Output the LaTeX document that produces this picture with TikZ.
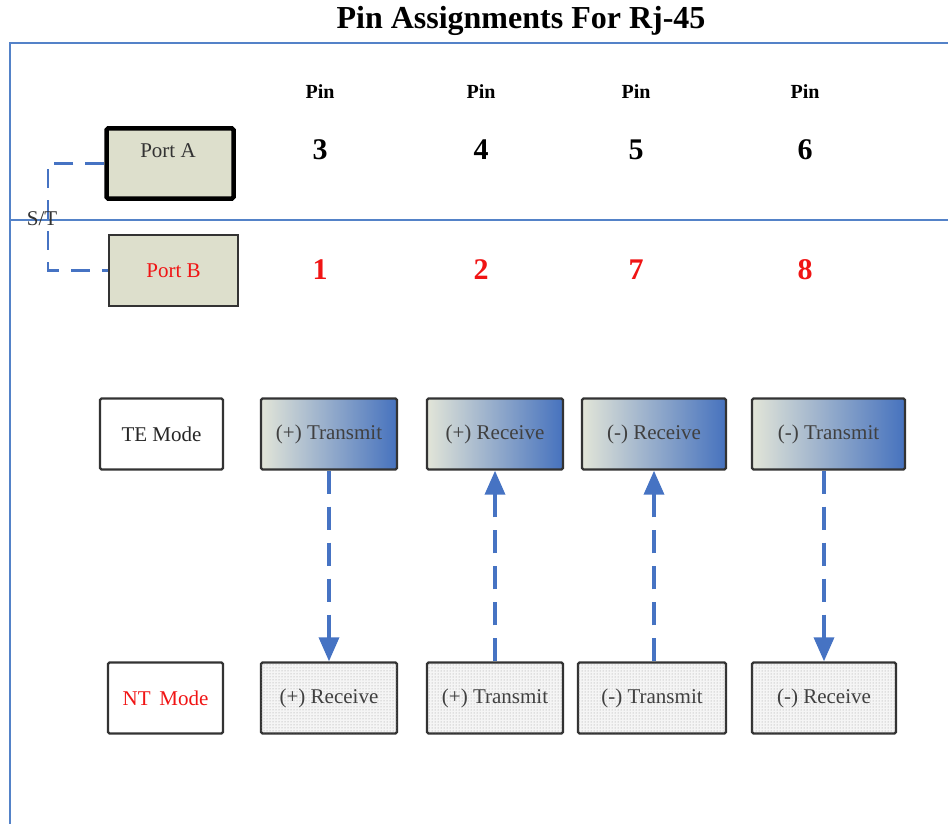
\documentclass[tikz,border=0pt]{standalone}
\usepackage{fontspec}
\setmainfont{Liberation Serif}
\usetikzlibrary{patterns,arrows.meta}
\definecolor{frameblue}{RGB}{84,130,200}
\definecolor{arrowblue}{RGB}{70,115,195}
\definecolor{khaki}{RGB}{221,223,204}
\definecolor{paleleft}{RGB}{226,229,216}
\definecolor{deepblue}{RGB}{70,114,190}
\definecolor{pinred}{RGB}{240,20,20}

\tikzset{
  modebox/.style={draw=black!80, line width=2.4pt, rounded corners=1.5pt, inner sep=0pt,
    minimum height=71pt, font=\fontsize{21}{24}\selectfont, text=black!75},
  tebox/.style={modebox, left color=paleleft, right color=deepblue},
  ntbox/.style={modebox, fill=gray!8, postaction={pattern=dots, pattern color=gray!80}},
  link/.style={arrowblue, line width=3.6pt, dash pattern=on 23pt off 13pt},
  tip/.style={-{Triangle[width=20pt,length=24pt]}}
}

\begin{document}
\begin{tikzpicture}[x=1pt,y=-1pt]
\useasboundingbox (0,0) rectangle (948,824);
\node[font=\fontsize{32}{36}\bfseries] (title) at (521,21) {Pin Assignments For Rj-45};
\draw[frameblue, line width=2.6pt](10,824)--(10,43)--(948,43);
\draw[frameblue, line width=2.2pt](10,220)--(948,220);

% pins
\foreach \x/\a/\b [count=\i] in {320/3/1, 481/4/2, 636/5/7, 805/6/8}{
	\node[font=\fontsize{20}{22}\bfseries] (pin\i) at (\x,92) {Pin};
	\node[font=\fontsize{30}{32}\bfseries] (a\i) at (\x,150) {\a};
	\node[font=\fontsize{30}{32}\bfseries, text=pinred] (b\i) at (\x,270) {\b};
}

% ports
\node[draw=black, line width=4.5pt, rounded corners=1.5pt, fill=khaki, minimum width=127pt, minimum height=70pt,
  inner sep=0pt] (portA) at (170,163.5) {};
\node[font=\fontsize{21}{24}\selectfont, text=black!80] at (168,151) {Port A};
\node[draw=black!80, line width=2.2pt, fill=khaki, minimum width=129pt, minimum height=71pt, inner sep=0pt,
  font=\fontsize{21}{24}\selectfont, text=pinred] (portB) at (173.5,270.5) {Port B};
\coordinate (st) at (48,220);
\draw[arrowblue, line width=2.6pt, dash pattern=on 19pt off 12pt](portA.west)-|(st)|-(portB.west);
\node[font=\fontsize{21}{24}\selectfont, text=black!80] at (42,219) {S/T};

% TE mode row
\node[modebox, minimum width=123pt, text=black!85] (te) at (161.5,434) {TE Mode};
\node[tebox, minimum width=136pt] (t1) at (329,434) {(+) Transmit};
\node[tebox, minimum width=136pt] (t2) at (495,434) {(+) Receive};
\node[tebox, minimum width=144pt] (t3) at (654,434) {(-) Receive};
\node[tebox, minimum width=153pt] (t4) at (828.5,434) {(-) Transmit};

% NT mode row
\node[modebox, minimum width=115pt, text=pinred] (nt) at (165.5,698) {NT\, Mode};
\node[ntbox, minimum width=136pt] (n1) at (329,698) {(+) Receive};
\node[ntbox, minimum width=136pt] (n2) at (495,698) {(+) Transmit};
\node[ntbox, minimum width=148pt] (n3) at (652,698) {(-) Transmit};
\node[ntbox, minimum width=144pt] (n4) at (824,698) {(-) Receive};

% signal direction
\draw[link, tip](t1.south)--(t1.south |- n1.north);
\draw[link, tip](n2.north)--(n2.north |- t2.south);
\draw[link, tip](n3.north -| t3.south)--(t3.south);
\draw[link, tip](t4.south -| n4.north)--(n4.north);
\end{tikzpicture}
\end{document}
